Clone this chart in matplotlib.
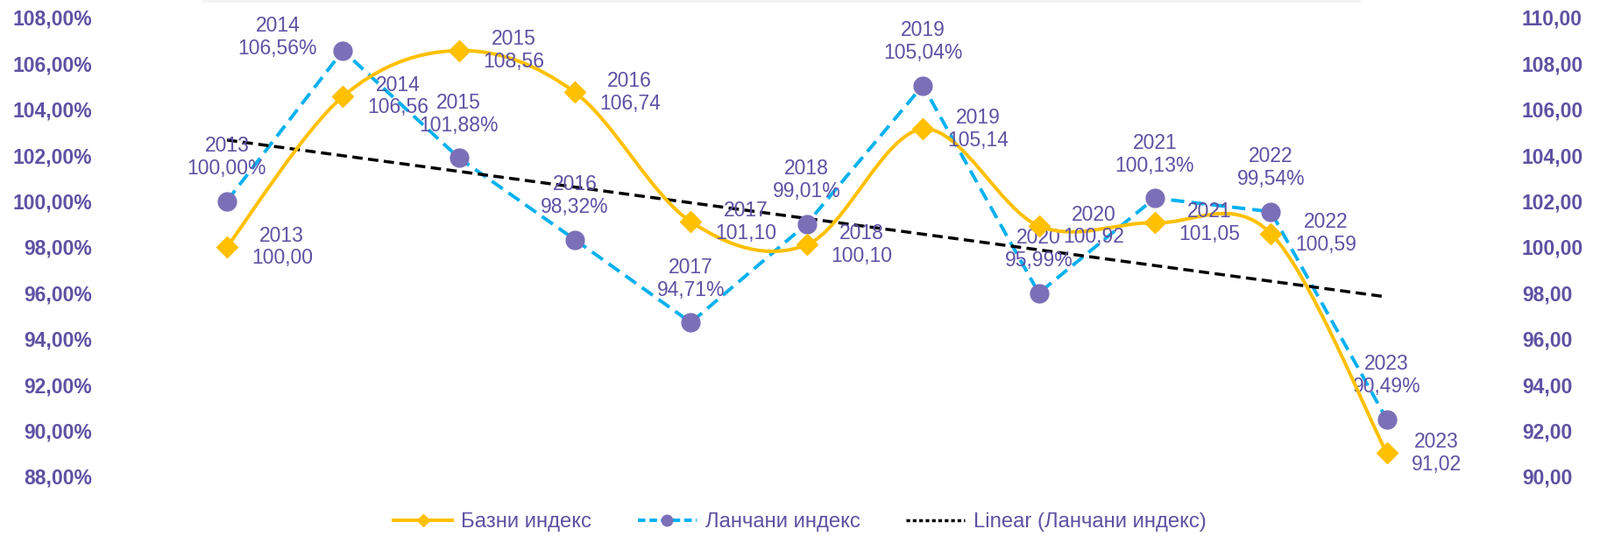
import numpy as np
import matplotlib
matplotlib.use("Agg")
from matplotlib import pyplot as plt
from matplotlib.path import Path
from matplotlib.patches import PathPatch, Rectangle
from matplotlib.lines import Line2D
from matplotlib.ticker import FuncFormatter, MultipleLocator

plt.rcParams['font.family'] = ['Liberation Sans', 'DejaVu Sans']

years = [2013, 2014, 2015, 2016, 2017, 2018, 2019, 2020, 2021, 2022, 2023]
lanchani = [100.00, 106.56, 101.88, 98.32, 94.71, 99.01, 105.04, 95.99, 100.13, 99.54, 90.49]  # left axis, %
bazni = [100.00, 106.56, 108.56, 106.74, 101.10, 100.10, 105.14, 100.92, 101.05, 100.59, 91.02]  # right axis
series_names = ["Базни индекс", "Ланчани индекс", "Linear (Ланчани индекс)"]

YELLOW = "#FFC000"
BLUE = "#00B0F0"
PURPLE_DOT = "#7B70B8"
TEXT = "#5E51A3"
FS = 16.5


def smooth_path(xs, ys):
    # Excel-like smoothed line: cubic bezier through every point (Catmull-Rom)
    pts = np.column_stack([xs, ys]).astype(float)
    padded = np.vstack([pts[0], pts, pts[-1]])
    verts = [pts[0]]
    codes = [Path.MOVETO]
    for i in range(len(pts) - 1):
        p0, p1, p2, p3 = padded[i], padded[i + 1], padded[i + 2], padded[i + 3]
        verts += [p1 + (p2 - p0) / 6, p2 - (p3 - p1) / 6, p2]
        codes += [Path.CURVE4] * 3
    return Path(verts, codes)


def fmt(v):
    return f"{v:.2f}".replace(".", ",")


W, H = 1826, 612
L, R, TOP, BOT = 120, 1715, 20, 544
fig = plt.figure(figsize=(W / 100, H / 100), dpi=100)
ax = fig.add_axes([L / W, 1 - BOT / H, (R - L) / W, (BOT - TOP) / H])
ax2 = ax.twinx()

ax.set_xlim(2011.95, 2024.0)
ax.set_ylim(88, 108)
ax2.set_ylim(90, 110)
ax.yaxis.set_major_locator(MultipleLocator(2))
ax2.yaxis.set_major_locator(MultipleLocator(2))
ax.yaxis.set_major_formatter(FuncFormatter(lambda v, p: fmt(v) + "%"))
ax2.yaxis.set_major_formatter(FuncFormatter(lambda v, p: fmt(v)))
ax.set_xticks([])
for a, pad in ((ax, 10.8), (ax2, 15.8)):
    for s in a.spines.values():
        s.set_visible(False)
    a.tick_params(axis="y", length=0, pad=pad, labelsize=FS, labelcolor=TEXT)
    for t in a.get_yticklabels():
        t.set_fontweight("bold")
ax.patch.set_visible(False)

# trend line of chain index
k, b = np.polyfit(years, lanchani, 1)
trend = np.polyval([k, b], years)
ax.plot(years, trend, color="black", lw=2.5, dashes=(3.4, 1.8), zorder=4)

# chain index
ax.plot(years, lanchani, color=BLUE, lw=2.8, dashes=(3.9, 2.1), zorder=3)
ax.plot(years, lanchani, "o", ms=15, color=PURPLE_DOT, zorder=5)

# base index, smoothed
ax2.add_patch(PathPatch(smooth_path(years, bazni), fill=False, edgecolor=YELLOW,
                        lw=2.9, transform=ax2.transData, zorder=3))
ax2.plot(years, bazni, "D", ms=12, color=YELLOW, zorder=4)

for x, v in zip(years, lanchani):
    txt = f"{x}\n{fmt(v)}%"
    if x == 2014:
        ax.annotate(txt, (x, v), xytext=(-21, 11), textcoords="offset points",
                    ha="right", va="center", multialignment="center",
                    fontsize=FS, color=TEXT, linespacing=1.15, zorder=6)
    else:
        ax.annotate(txt, (x, v), xytext=(0, 36), textcoords="offset points",
                    ha="center", va="center", multialignment="center",
                    fontsize=FS, color=TEXT, linespacing=1.15, zorder=6)

for x, v in zip(years, bazni):
    ax2.annotate(f"{x}\n{fmt(v)}", (x, v), xytext=(20, 0), textcoords="offset points",
                 ha="left", va="center", multialignment="center",
                 fontsize=FS, color=TEXT, linespacing=1.15, zorder=6)

handles = [
    Line2D([], [], color=YELLOW, lw=2.9, marker="D", ms=7, mfc=YELLOW, mec=YELLOW),
    Line2D([], [], color=BLUE, lw=2.8, dashes=(2.2, 1.2), marker="o", ms=9,
           mfc=PURPLE_DOT, mec=PURPLE_DOT),
    Line2D([], [], color="black", lw=2.5, dashes=(1.2, 0.9)),
]
fig.legend(handles, series_names, loc="center", bbox_to_anchor=(0.5, 0.026), ncol=3,
           frameon=False, fontsize=17.2, labelcolor=TEXT, handlelength=2.8,
           handletextpad=0.42, columnspacing=2.2)

# faint shadow of the frame at the very top
fig.add_artist(Rectangle((231 / W, 1 - 3 / H), 1322 / W, 3 / H, transform=fig.transFigure,
                         color="#f3f3f3", lw=0))

fig.savefig("out.png", dpi=100)
